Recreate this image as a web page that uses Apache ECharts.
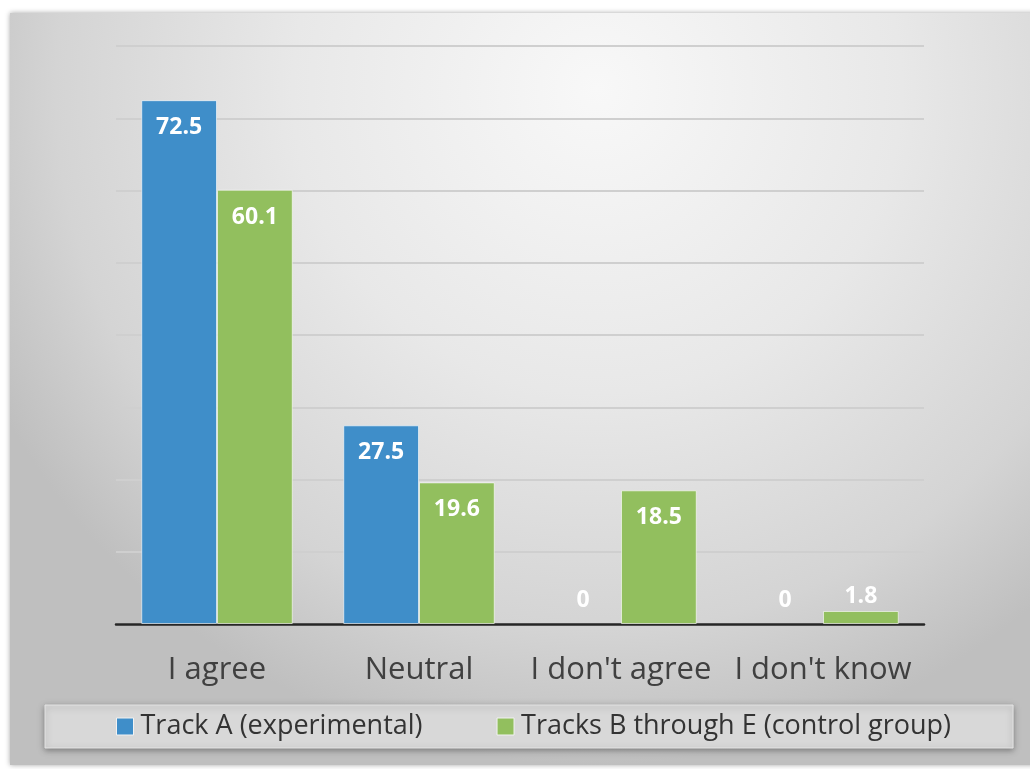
<!DOCTYPE html>
<html>
<head>
<meta charset="utf-8">
<script src="https://cdn.jsdelivr.net/npm/echarts@6/dist/echarts.min.js"></script>
<style>
  html, body { margin: 0; padding: 0; background: #ffffff; }
  #chart { width: 1030px; height: 769px; }
</style>
</head>
<body>
<div id="chart"></div>
<script>
// Survey responses by track (percent)
const categories = ["I agree", "Neutral", "I don't agree", "I don't know"];
const seriesNames = ["Track A (experimental)", "Tracks B through E (control group)"];
const trackA = [72.5, 27.5, 0, 0];
const tracksBE = [60.1, 19.6, 18.5, 1.8];
const yMin = 0, yMax = 80, yStep = 10;

const blue = '#3f8ec9';
const green = '#92bf5e';

// Values too small to hold their label inside the bar get it above instead;
// empty bars drop their outline so nothing shows on the axis
function toItems(values) {
  return values.map(v => {
    if (v === 0) return { value: v, itemStyle: { borderWidth: 0 }, label: { position: 'top', distance: 12 } };
    if (v < 5) return { value: v, label: { position: 'top', distance: 3 } };
    return { value: v };
  });
}

const labelStyle = {
  show: true,
  position: 'insideTop',
  distance: 16,
  color: '#ffffff',
  fontFamily: 'Open Sans',
  fontWeight: 'bold',
  fontSize: 23
};

const chart = echarts.init(document.getElementById('chart'), null, { renderer: 'canvas' });
chart.setOption({
  animation: false,
  graphic: [{
    type: 'rect',
    z: -10,
    silent: true,
    shape: { x: 10, y: 13, width: 1030, height: 752 },
    style: {
      fill: {
        type: 'radial', x: 0.57, y: 0.1, r: 0.9,
        colorStops: [
          { offset: 0, color: '#f8f8f8' },
          { offset: 0.45, color: '#e8e8e8' },
          { offset: 0.8, color: '#d4d4d4' },
          { offset: 1, color: '#bfbfbf' }
        ]
      },
      shadowBlur: 5,
      shadowColor: 'rgba(0,0,0,0.35)',
      shadowOffsetX: 0,
      shadowOffsetY: 0
    }
  }],
  grid: { left: 116, right: 106, top: 46, bottom: 145, containLabel: false },
  legend: {
    data: seriesNames,
    left: 45,
    top: 705,
    padding: [8, 62, 8, 71],
    backgroundColor: '#d8d8d8',
    borderColor: '#e4e4e4',
    borderWidth: 1,
    shadowBlur: 6,
    shadowColor: 'rgba(0,0,0,0.35)',
    shadowOffsetY: 2,
    itemWidth: 17,
    itemHeight: 17,
    itemGap: 74,
    icon: 'rect',
    itemStyle: { borderColor: '#f2f2f2', borderWidth: 1 },
    textStyle: { color: '#333333', fontFamily: 'Open Sans', fontSize: 27, padding: [0, 0, 0, 2] }
  },
  xAxis: {
    type: 'category',
    data: categories,
    axisLine: { lineStyle: { color: '#262626', width: 2.5 } },
    axisTick: { show: false },
    axisLabel: { interval: 0, hideOverlap: false, color: '#404040', fontFamily: 'Open Sans', fontSize: 31, margin: 31 }
  },
  yAxis: {
    type: 'value',
    min: yMin, max: yMax, interval: yStep,
    axisLine: { show: false },
    axisTick: { show: false },
    axisLabel: { show: false },
    splitLine: { lineStyle: { color: '#cfcfcf', width: 2 } }
  },
  series: [
    {
      name: seriesNames[0], type: 'bar', data: toItems(trackA),
      barGap: '0%', barCategoryGap: '25%',
      itemStyle: { color: blue, borderColor: 'rgba(255,255,255,0.6)', borderWidth: 1 },
      label: labelStyle
    },
    {
      name: seriesNames[1], type: 'bar', data: toItems(tracksBE),
      barGap: '0%', barCategoryGap: '25%',
      itemStyle: { color: green, borderColor: 'rgba(255,255,255,0.6)', borderWidth: 1 },
      label: labelStyle
    }
  ]
});
</script>
</body>
</html>
